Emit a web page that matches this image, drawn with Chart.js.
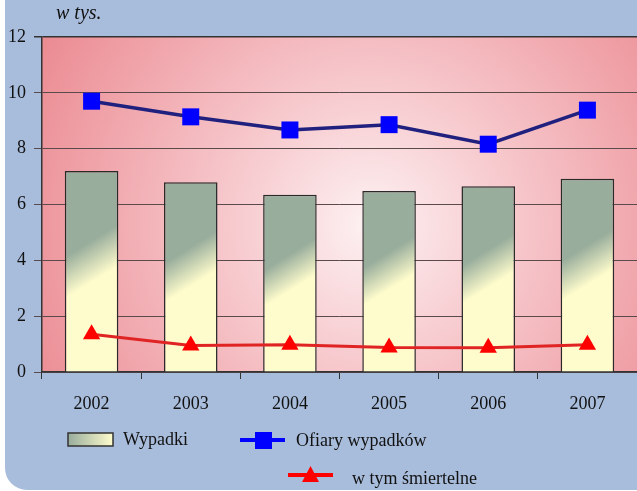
<!DOCTYPE html>
<html>
<head>
<meta charset="utf-8">
<script src="https://cdn.jsdelivr.net/npm/chart.js@4/dist/chart.umd.min.js"></script>
<style>
  html, body { margin: 0; padding: 0; background: #fff; overflow: hidden; }
  #panel { position: absolute; left: 5px; top: 0; right: 0; bottom: 1px; background: #a8bcdb; border-bottom-left-radius: 22px; }
  #wrap { position: absolute; left: 0; top: 0; width: 637px; height: 491px; }
</style>
</head>
<body>
<div id="panel"></div>
<div id="wrap"><canvas id="chart" width="637" height="491"></canvas></div>
<script>
const YEARS = ["2002", "2003", "2004", "2005", "2006", "2007"]
// values in thousands
const WYPADKI = [7.2, 6.8, 6.35, 6.48, 6.65, 6.92]
const OFIARY = [9.7, 9.14, 8.67, 8.86, 8.16, 9.38]
const SMIERTELNE = [1.35, 0.95, 0.98, 0.88, 0.87, 0.98]
const SERIES_NAMES = ["Wypadki", "Ofiary wypadków", "w tym śmiertelne"]
const UNIT = "w tys."

const FONT = "'Liberation Serif', 'Times New Roman', Times, serif"
const GREEN = '#98ad9c'
const YELLOW = '#fefccc'

Chart.defaults.font.family = FONT

// bar fill: diagonal gradient, grey-green on top fading to pale yellow
function barFill(ctx){
    var c = ctx.chart
    if (!c.chartArea || ctx.raw === undefined) return '#c8d0b0'
    var x = c.scales.x.getPixelForValue(ctx.dataIndex) - 27
    var top = c.scales.y.getPixelForValue(ctx.raw)
    var bot = c.scales.y.getPixelForValue(0)
    var h = bot - top
    var g = c.ctx.createLinearGradient(x, top, x + 0.62 * h, top + h)
    g.addColorStop(0, GREEN)
    g.addColorStop(0.31, GREEN)
    g.addColorStop(0.46, YELLOW)
    g.addColorStop(1, YELLOW)
    return g
}

var plotBackground = {
    id: 'plotBackground',
    beforeDraw(chart){
        var a = chart.chartArea, ctx = chart.ctx
        ctx.save()
        var g = ctx.createRadialGradient(370, 225, 0, 370, 225, 380)
        g.addColorStop(0, '#fdf1f2')
        g.addColorStop(0.35, '#f7cbcf')
        g.addColorStop(1, '#eb8a91')
        ctx.fillStyle = g
        ctx.fillRect(a.left, a.top, a.right - a.left, a.bottom - a.top)
        ctx.restore()
    },
    afterDraw(chart){
        var ctx = chart.ctx
        ctx.save()
        ctx.fillStyle = '#111'
        ctx.textBaseline = 'middle'
        ctx.font = 'italic 20px ' + FONT
        ctx.fillText(UNIT, 56, 14)

        // legend
        ctx.font = '18px ' + FONT
        var sw = ctx.createLinearGradient(68, 0, 113, 0)
        sw.addColorStop(0, GREEN)
        sw.addColorStop(1, YELLOW)
        ctx.fillStyle = sw
        ctx.fillRect(68, 433, 45, 13)
        ctx.strokeStyle = '#333'
        ctx.lineWidth = 1.5
        ctx.strokeRect(68, 433, 45, 13)
        ctx.fillStyle = '#111'
        ctx.fillText(SERIES_NAMES[0], 123, 440)

        ctx.strokeStyle = '#0000ff'
        ctx.lineWidth = 4
        ctx.beginPath(); ctx.moveTo(240, 440); ctx.lineTo(285, 440); ctx.stroke()
        ctx.fillStyle = '#0000ff'
        ctx.fillRect(255, 432, 17, 17)
        ctx.fillStyle = '#111'
        ctx.fillText(SERIES_NAMES[1], 296, 441)

        ctx.strokeStyle = '#ff0000'
        ctx.lineWidth = 4
        ctx.beginPath(); ctx.moveTo(288, 475); ctx.lineTo(333, 475); ctx.stroke()
        ctx.fillStyle = '#ff0000'
        ctx.beginPath(); ctx.moveTo(310.5, 466); ctx.lineTo(319, 482); ctx.lineTo(302, 482); ctx.closePath(); ctx.fill()
        ctx.fillStyle = '#111'
        ctx.fillText(SERIES_NAMES[2], 352, 479)
        ctx.restore()
    }
}

var chart = new Chart(document.getElementById('chart'), {
    type: 'bar',
    data: {
        labels: YEARS,
        datasets: [{
            type: 'line',
            label: SERIES_NAMES[1],
            data: OFIARY,
            borderColor: '#20207e',
            borderWidth: 3.5,
            pointStyle: 'rect',
            pointRadius: 12,
            pointHoverRadius: 12,
            pointBackgroundColor: '#0000ff',
            pointBorderColor: '#0000ff',
            pointBorderWidth: 0,
            tension: 0,
            order: 1
        },
        {
            type: 'line',
            label: SERIES_NAMES[2],
            data: SMIERTELNE,
            borderColor: '#e02424',
            borderWidth: 3,
            pointStyle: 'triangle',
            pointRadius: 10,
            pointHoverRadius: 10,
            pointBackgroundColor: '#ff0000',
            pointBorderColor: '#ff0000',
            pointBorderWidth: 0,
            tension: 0,
            order: 2
        },
        {
            type: 'bar',
            label: SERIES_NAMES[0],
            data: WYPADKI,
            backgroundColor: barFill,
            borderColor: '#2a2a2a',
            borderWidth: 1.5,
            barPercentage: 0.54,
            categoryPercentage: 1,
            order: 3
        }]
    },
    options: {
        responsive: false,
        animation: false,
        layout: { autoPadding: false, padding: { top: 37, right: 0, bottom: 0, left: 0 } },
        plugins: {
            legend: { display: false },
            tooltip: { enabled: false }
        },
        scales: {
            x: {
                offset: true,
                grid: { offset: true, drawOnChartArea: false, drawTicks: true, tickLength: 7, color: '#333' },
                border: { display: true, color: '#333', width: 1.5 },
                ticks: { color: '#111', font: { family: FONT, size: 18 }, padding: 14 },
                afterFit(scale){ scale.height = 119 }
            },
            y: {
                min: 0,
                max: 12,
                ticks: { stepSize: 2, color: '#111', font: { family: FONT, size: 18 }, padding: 8 },
                grid: {
                    color: function(ctx){ return ctx.tick && ctx.tick.value === 12 ? '#333' : '#5a4a4c' },
                    lineWidth: function(ctx){ return ctx.tick && ctx.tick.value === 12 ? 1.5 : 1 },
                    tickLength: 8
                },
                border: { display: true, color: '#333', width: 1.5 },
                afterFit(scale){ scale.width = 42 }
            }
        }
    },
    plugins: [plotBackground]
})
</script>
</body>
</html>
